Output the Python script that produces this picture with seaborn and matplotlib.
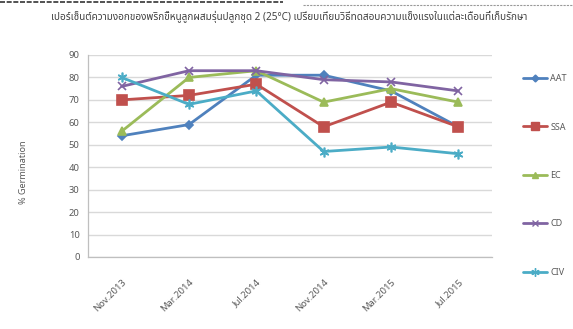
import matplotlib
matplotlib.use("Agg")
import matplotlib.pyplot as plt
from matplotlib.lines import Line2D
import seaborn as sns
import pandas as pd

# Germination (%) by storage month for each vigour test
months = ["Nov.2013", "Mar.2014", "Jul.2014", "Nov.2014", "Mar.2015", "Jul.2015"]
aat = [54, 59, 81, 81, 74, 58]
ssa = [70, 72, 77, 58, 69, 58]
ec = [56, 80, 83, 69, 75, 69]
cd = [76, 83, 83, 79, 78, 74]
civ = [80, 68, 74, 47, 49, 46]
series_names = ["AAT", "SSA", "EC", "CD", "CIV"]
yticks = list(range(0, 91, 10))

title = ("เปอร์เซ็นต์ความงอกของพริกขี้หนูลูกผสมรุ่นปลูกชุด 2 (25°C) "
         "เปรียบเทียบวิธีทดสอบความแข็งแรงในแต่ละเดือนที่เก็บรักษา")

sns.set_theme(style="white")
plt.rcParams["font.family"] = ["Noto Sans", "DejaVu Sans", "Liberation Sans"]

df = pd.DataFrame({
    "month": months * 5,
    "value": aat + ssa + ec + cd + civ,
    "test": sum([[n] * len(months) for n in series_names], []),
})
df["x"] = df["month"].map({m: i for i, m in enumerate(months)})

palette = {"AAT": "#4F81BD", "SSA": "#C0504D", "EC": "#9BBB59",
           "CD": "#8064A2", "CIV": "#4BACC6"}
markers = {"AAT": "D", "SSA": "s", "EC": "^", "CD": "x", "CIV": (6, 2, 0)}
msizes = {"AAT": 4.5, "SSA": 6.5, "EC": 6, "CD": 6, "CIV": 7}

fig = plt.figure(figsize=(5.73, 3.29), dpi=100)
ax = fig.add_axes([88 / 573, 1 - 257 / 329, (492 - 88) / 573, (257 - 55) / 329])

for name in series_names:
    sub = df[df["test"] == name]
    sns.lineplot(data=sub, x="x", y="value", ax=ax, color=palette[name],
                 marker=markers[name], markersize=msizes[name],
                 markeredgecolor=palette[name], markeredgewidth=1.2,
                 linewidth=2, legend=False)

ax.set_xlim(-0.5, len(months) - 0.5)
ax.set_ylim(0, 90)
ax.set_yticks(yticks)
ax.set_yticklabels([str(v) for v in yticks], fontsize=6.8, color="#595959")
ax.set_xticks(range(len(months)))
ax.set_xticklabels(months, rotation=45, ha="right", rotation_mode="anchor",
                   fontsize=6.8, color="#595959")
ax.set_xticks([i - 0.5 for i in range(len(months) + 1)], minor=True)
ax.tick_params(axis="x", which="major", length=0, pad=15)
ax.tick_params(axis="x", which="minor", length=4, color="#BFBFBF", width=0.8)
ax.tick_params(axis="y", length=4, color="#BFBFBF", width=0.8, pad=2)
ax.yaxis.grid(True, color="#D9D9D9", linewidth=1)
ax.set_axisbelow(True)
for side in ["top", "right"]:
    ax.spines[side].set_visible(False)
for side in ["left", "bottom"]:
    ax.spines[side].set_color("#BFBFBF")
    ax.spines[side].set_linewidth(0.9)
ax.set_xlabel("")
ax.set_ylabel("% Germination", fontsize=6.5, color="#595959")
ax.yaxis.set_label_coords(-0.148, 0.42)

# legend on the right, widely spaced entries
handles = [Line2D([0], [0], color=palette[n], marker=markers[n],
                  markersize=msizes[n] - 1, markeredgecolor=palette[n],
                  linewidth=2) for n in series_names]
fig.legend(handles, series_names, loc="upper left",
           bbox_to_anchor=(515 / 573, 1 - 66 / 329), frameon=False,
           fontsize=6.5, labelcolor="#595959", handlelength=2.6,
           labelspacing=4.37, handletextpad=0.4)

fig.text(289 / 573, 1 - 17 / 329, title, ha="center", va="center",
         fontsize=7.2, color="#404040",
         family=["Noto Sans Thai", "Noto Sans", "DejaVu Sans"])

# page rules above the chart
fig.add_artist(Line2D([0, 283 / 573], [1 - 1.5 / 329] * 2, color="#333333",
                      linewidth=1.2, linestyle=(0, (3, 1))))
fig.add_artist(Line2D([303 / 573, 1], [1 - 5 / 329] * 2, color="#999999",
                      linewidth=0.8, linestyle=(0, (2, 1))))

fig.savefig("out.png", dpi=100)
